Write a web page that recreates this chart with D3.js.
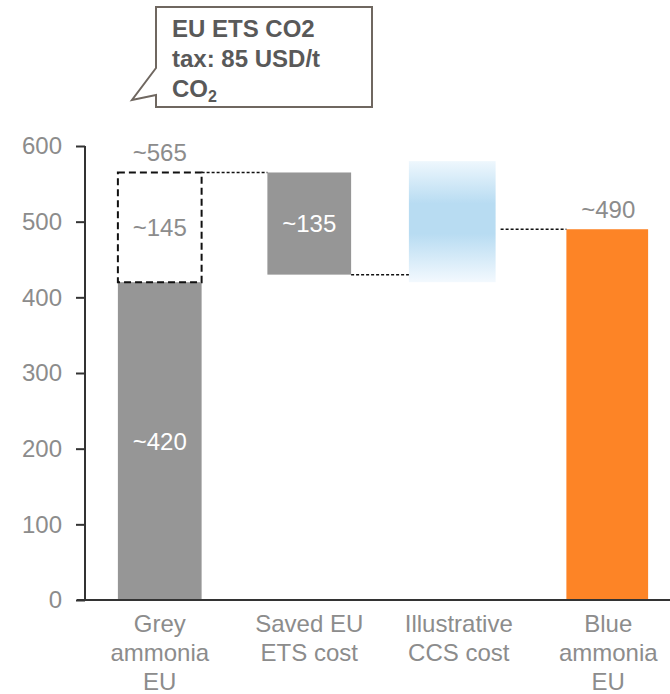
<!DOCTYPE html>
<meta charset="utf-8">
<head>
  <title>Blue ammonia waterfall</title>
</head>
<body style="margin:0;background:#fff">
<style>
text { font-family: "Liberation Sans", Arial, sans-serif; }
.tick text { font-size: 24px; fill: #8c8c8c; }
.cat { font-size: 24px; fill: #8c8c8c; text-anchor: middle; }
.val { font-size: 24px; text-anchor: middle; }
.callout { font-size: 24px; font-weight: bold; fill: #595959; }
</style>
<svg width="670" height="694"></svg>
<script src="https://d3js.org/d3.v7.min.js"></script>
<script>

// data
var categories = ["Grey ammonia EU", "Saved EU ETS cost", "Illustrative CCS cost", "Blue ammonia EU"];
var categoryLines = [["Grey", "ammonia", "EU"], ["Saved EU", "ETS cost"], ["Illustrative", "CCS cost"], ["Blue", "ammonia", "EU"]];
var greyBase = 420;      // grey ammonia without CO2 cost
var etsTax = 145;        // EU ETS CO2 cost on top
var savedEts = 135;      // saved EU ETS cost
var ccsRange = [420, 580]; // illustrative CCS cost band
var blueTotal = 490;
var yTicks = [0, 100, 200, 300, 400, 500, 600];
var calloutLines = ["EU ETS CO2", "tax: 85 USD/t"];

var svg = d3.select("svg");

var x = d3.scaleBand().domain(categories).range([85, 683]);
var barW = x.bandwidth() * 0.56;
var y = d3.scaleLinear().domain([0, 600]).range([600, 146]);

function left(c) { return x(c) + (x.bandwidth() - barW) / 2; }
function mid(c) { return x(c) + x.bandwidth() / 2; }

// gradient for CCS band
var defs = svg.append("defs");
var grad = defs.append("linearGradient").attr("id", "ccs")
    .attr("x1", 0).attr("y1", 0).attr("x2", 0).attr("y2", 1);
grad.append("stop").attr("offset", "0%").attr("stop-color", "#eef7fd");
grad.append("stop").attr("offset", "35%").attr("stop-color", "#b8dcf2");
grad.append("stop").attr("offset", "60%").attr("stop-color", "#b8dcf2");
grad.append("stop").attr("offset", "100%").attr("stop-color", "#f3f9fe");

// y axis
var yAxis = svg.append("g")
    .attr("transform", "translate(85,0)")
    .call(d3.axisLeft(y).tickValues(yTicks).tickSize(9).tickPadding(14));
yAxis.select(".domain").remove();
yAxis.selectAll(".tick line").attr("stroke", "#333").attr("stroke-width", 2);

var g = svg.append("g");

var total = greyBase + etsTax;

// grey bar
g.append("rect")
    .attr("x", left(categories[0])).attr("width", barW)
    .attr("y", y(greyBase)).attr("height", y(0) - y(greyBase))
    .attr("fill", "#969696");

// dashed ETS box
g.append("rect")
    .attr("x", left(categories[0])).attr("width", barW)
    .attr("y", y(total)).attr("height", y(greyBase) - y(total))
    .attr("fill", "none").attr("stroke", "#111").attr("stroke-width", 2)
    .attr("stroke-dasharray", "7,4");

// saved ETS bar
g.append("rect")
    .attr("x", left(categories[1])).attr("width", barW)
    .attr("y", y(total)).attr("height", y(total - savedEts) - y(total))
    .attr("fill", "#969696");

// CCS band
g.append("rect")
    .attr("x", left(categories[2]) - 8).attr("width", barW + 3)
    .attr("y", y(ccsRange[1])).attr("height", y(ccsRange[0]) - y(ccsRange[1]))
    .attr("fill", "url(#ccs)");

// blue ammonia bar
g.append("rect")
    .attr("x", left(categories[3])).attr("width", barW - 2)
    .attr("y", y(blueTotal)).attr("height", y(0) - y(blueTotal))
    .attr("fill", "#fd8426");

// connectors
var conn = [
  [left(categories[0]) + barW, left(categories[1]), total],
  [left(categories[1]) + barW, left(categories[2]) - 8, total - savedEts],
  [left(categories[2]) + barW, left(categories[3]), blueTotal]
];
g.selectAll(".conn").data(conn).enter().append("line")
    .attr("x1", function(d) { return d[0]; })
    .attr("x2", function(d) { return d[1]; })
    .attr("y1", function(d) { return y(d[2]); })
    .attr("y2", function(d) { return y(d[2]); })
    .attr("stroke", "#111").attr("stroke-width", 1.5)
    .attr("stroke-dasharray", "3,2");

// x axis line
svg.append("line").attr("x1", 77).attr("x2", 670)
    .attr("y1", y(0)).attr("y2", y(0))
    .attr("stroke", "#333").attr("stroke-width", 2);
svg.append("line").attr("x1", 85).attr("x2", 85)
    .attr("y1", y(600)).attr("y2", y(0))
    .attr("stroke", "#333").attr("stroke-width", 2);

// value labels
var labels = [
  [categories[0], total + "", y(total) - 20, "#8c8c8c"],
  [categories[0], etsTax + "", y(greyBase + etsTax / 2), "#8c8c8c"],
  [categories[0], greyBase + "", y(greyBase / 2), "#fff"],
  [categories[1], savedEts + "", y(total - savedEts / 2), "#fff"],
  [categories[3], blueTotal + "", y(blueTotal) - 20, "#8c8c8c"]
];
g.selectAll(".val").data(labels).enter().append("text")
    .attr("class", "val")
    .attr("x", function(d) { return mid(d[0]); })
    .attr("y", function(d) { return d[2]; })
    .attr("dy", "0.35em")
    .attr("fill", function(d) { return d[3]; })
    .text(function(d) { return "~" + d[1]; });

// category labels
var cat = svg.selectAll(".cat").data(categories).enter().append("text")
    .attr("class", "cat")
    .attr("x", function(d) { return mid(d); })
    .attr("y", 632);
cat.each(function(d, i) {
  var t = d3.select(this);
  categoryLines[i].forEach(function(line, j) {
    t.append("tspan").attr("x", mid(d)).attr("y", 632 + j * 29).text(line);
  });
});

// callout
svg.append("path")
    .attr("d", "M156,7 H372 V107 H156 V95 L132,100 L156,68 Z")
    .attr("fill", "#fff").attr("stroke", "#6f6760").attr("stroke-width", 2);
var co = svg.append("text").attr("class", "callout");
calloutLines.forEach(function(l, i) {
  co.append("tspan").attr("x", 172).attr("y", 37 + i * 30).text(l);
});
var last = co.append("tspan").attr("x", 172).attr("y", 97).text("CO");
co.append("tspan").attr("font-size", 16).attr("dy", 5).text("2");

</script>
</body>
